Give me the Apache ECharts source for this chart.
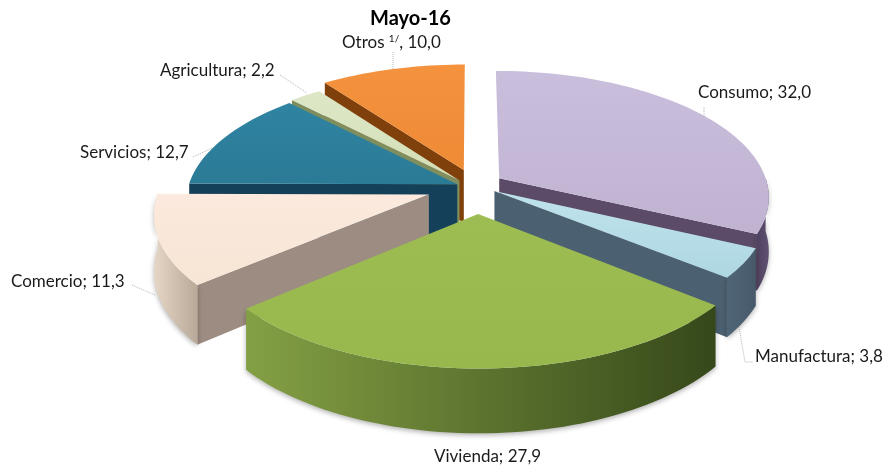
<!DOCTYPE html>
<html><head><meta charset="utf-8">
<style>html,body{margin:0;padding:0;background:#fff}#c{width:888px;height:468px}</style>
<script src="https://cdn.jsdelivr.net/npm/echarts@6/dist/echarts.min.js"></script>
</head><body><div id="c"></div>
<script>
// Data
const chartTitle = 'Mayo-16';
const categories = ['Consumo','Manufactura','Vivienda','Comercio','Servicios','Agricultura','Otros'];
const values = [32.0,3.8,27.9,11.3,12.7,2.2,10.0];
const valueLabels = ['32,0','3,8','27,9','11,3','12,7','2,2','10,0'];

// Slice explosion offsets (fraction of radius, across and toward the viewer)
const explodeX = [0.102,0.083,0.022,-0.159,-0.055,-0.047,-0.031];
const explodeZ = [-0.094,0.008,0.186,0.035,-0.047,-0.076,-0.162];

// Styles
const topColors = [['#c9bedb','#c0b3d2'],['#bfe3ec','#aed7e3'],['#9dbd52','#98b84e'],['#fbeadd','#f7e5d5'],['#2f84a2','#2b7a96'],['#dde7c6','#d3dfb8'],['#f4923e','#ef8a35']];
const outerColors = [['#4f4260','#5f5070'],['#4f6678','#47596a'],['#84a044','#36481a'],['#e6d6c6','#b9a998'],['#184a60','#103a4e'],['#8a9a68','#7a8a58'],['#8a4810','#7a3e0c']];
const edgeColors = ['#5b4b68','#4b6070','#3c4f1c','#9c8c82','#14405a','#7e8e5e','#80400c'];

// Projection
const cx = 472, cy = 190, R = 270, kY = 0.465, persp = 0.14, drop = 54;
function proj(X, Z, d) {
  const w = 1 - persp * Z;
  return [cx + R * X / w, cy + (R * kY * Z + d) / w];
}
const total = values.reduce((a, b) => a + b, 0);
const starts = [];
values.reduce((acc, v, i) => { starts[i] = acc; return acc + v; }, 0);

function renderItem(params, api) {
  const i = params.dataIndex;
  const v = api.value(0);
  const a0 = starts[i] / total * Math.PI * 2;
  const a1 = a0 + v / total * Math.PI * 2;
  const mid = (a0 + a1) / 2;
  const ox = explodeX[i], oz = explodeZ[i];
  const base = Math.round(-Math.cos(mid) * 100) * 10 + 2000;
  const n = Math.max(4, Math.ceil((a1 - a0) / 0.03));
  const at = (t, d) => proj(ox + Math.sin(t), oz - Math.cos(t), d);
  const apex = d => proj(ox, oz, d);
  const arc = [];
  for (let s = 0; s <= n; s++) arc.push(a0 + (a1 - a0) * s / n);
  const children = [];
  // radial walls
  const radial = (a, sign) => {
    if (sign * Math.sin(a) <= 0.001) return;
    children.push({ type: 'polygon', z2: base + 1,
      shape: { points: [apex(0), at(a, 0), at(a, drop), apex(drop)] },
      style: { fill: edgeColors[i] } });
  };
  radial(a0, -1); radial(a1, 1);
  // outer wall (front-facing part)
  const front = arc.filter(t => Math.cos(t) <= 0.02);
  if (front.length > 1) {
    const pts = front.map(t => at(t, 0)).concat(front.slice().reverse().map(t => at(t, drop)));
    children.push({ type: 'polygon', z2: base + 2, shape: { points: pts },
      style: { fill: { type: 'linear', x: 0, y: 0, x2: 1, y2: 0,
        colorStops: [{ offset: 0, color: outerColors[i][0] }, { offset: 1, color: outerColors[i][1] }] },
        shadowBlur: 5, shadowColor: 'rgba(0,0,0,0.3)', shadowOffsetY: 2 } });
  }
  // top face
  const topPts = [apex(0)].concat(arc.map(t => at(t, 0)));
  children.push({ type: 'polygon', z2: base + 3, shape: { points: topPts },
    style: { fill: { type: 'linear', x: 0, y: 0, x2: 0, y2: 1,
      colorStops: [{ offset: 0, color: topColors[i][0] }, { offset: 1, color: topColors[i][1] }] } } });
  return { type: 'group', children };
}

// Label layout: [left x, centre y]
const labelFont = 'Lato, "Open Sans", sans-serif';
const labelSize = 17;
const labelLayout = [[698,93],[755,357],[434,457],[11,282],[80,153],[160,71],[342,43]];
const leaderLines = [
  [[704,107],[704,116]],
  [[739,327],[745,362],[753,362]],
  [],
  [[132,285],[155,295]],
  [[193,157],[212,148]],
  [[280,75],[307,93]],
  [[393,52],[393,70]]
];
const graphics = [];
categories.forEach((c, i) => {
  const isOtros = c === 'Otros';
  graphics.push({ type: 'text', left: labelLayout[i][0], top: labelLayout[i][1] - 9, z: 50,
    style: {
      text: isOtros ? '{a|' + c + ' }{s|1/}{a|, ' + valueLabels[i] + '}' : c + '; ' + valueLabels[i],
      font: labelSize + 'px ' + labelFont, fill: '#1a1a1a',
      rich: isOtros ? { a: { font: labelSize + 'px ' + labelFont, fill: '#1a1a1a', lineHeight: 18 },
                        s: { font: '10px ' + labelFont, fill: '#1a1a1a', lineHeight: 18, verticalAlign: 'top' } } : undefined
    } });
  if (leaderLines[i].length) graphics.push({ type: 'polyline', z: 50,
    shape: { points: leaderLines[i] },
    style: { stroke: '#b5b5b5', lineWidth: 1, lineDash: [1, 1], fill: null } });
});

const chart = echarts.init(document.getElementById('c'), null, { renderer: 'canvas' });
chart.setOption({
  animation: false,
  backgroundColor: '#ffffff',
  title: { text: chartTitle, left: 365, top: 4,
    textStyle: { fontFamily: 'Lato, sans-serif', fontWeight: 'bold', fontSize: 20, color: '#000' } },
  graphic: graphics,
  series: [{ type: 'custom', coordinateSystem: 'none', renderItem, data: values, silent: true }]
});
</script></body></html>
